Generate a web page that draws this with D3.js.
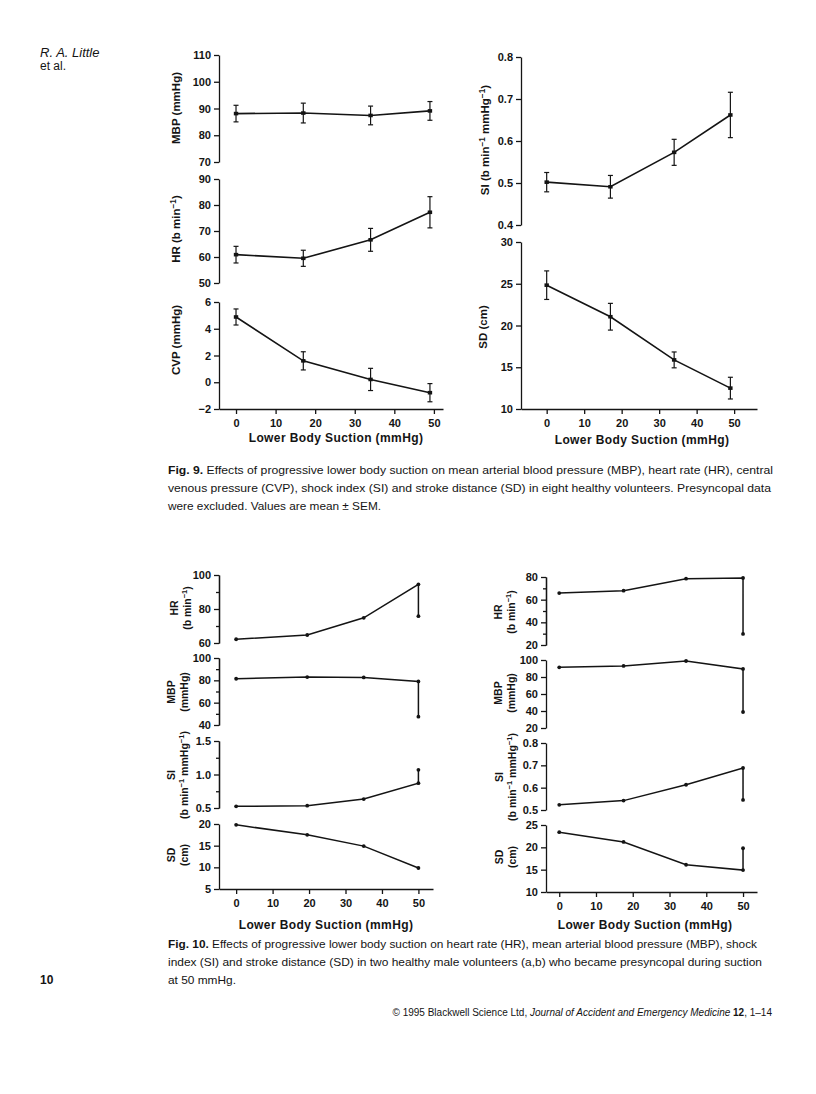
<!DOCTYPE html>
<html>
<head>
<meta charset="utf-8">
<script src="https://cdn.jsdelivr.net/npm/d3@7"></script>
<style>
  body { margin: 0; background: #fff; }
  svg { display: block; }
  text { font-family: "Liberation Sans", Arial, sans-serif; fill: #141414; }
</style>
</head>
<body>
<svg id="page" width="816" height="1094"></svg>
<script>
// Fig. 9 — mean ± SEM, eight volunteers
const suction9 = [0, 17, 34, 49]
const mbp9 = [88.1, 88.3, 87.4, 89.1]
const mbpSem9 = [3.1, 3.7, 3.5, 3.5]
const hr9 = [60.9, 59.5, 66.6, 77.2]
const hrSem9 = [3.2, 3.1, 4.4, 6.0]
const cvp9 = [4.88, 1.6, 0.21, -0.78]
const cvpSem9 = [0.6, 0.68, 0.83, 0.68]
const si9 = [0.502, 0.491, 0.573, 0.662]
const siSem9 = [0.023, 0.027, 0.031, 0.054]
const sd9 = [24.83, 21.05, 15.88, 12.5]
const sdSem9 = [1.71, 1.6, 0.95, 1.3]

// Fig. 10 — two volunteers, last value = presyncope at 50 mmHg
const suction10a = [0, 19.5, 35, 50]
const hr10a = [62.2, 64.7, 74.8, 94.5]
const mbp10a = [81.4, 82.9, 82.6, 79.0]
const si10a = [0.525, 0.535, 0.633, 0.87]
const sd10a = [19.8, 17.5, 14.9, 9.85]
const hrPre10a = 75.8
const mbpPre10a = 47.5
const siPre10a = 1.07
const sdPre10a = null

const suction10b = [0, 17.5, 34.5, 50]
const hr10b = [65.8, 67.9, 78.5, 79.1]
const mbp10b = [91.4, 93.0, 98.8, 89.5]
const si10b = [0.523, 0.542, 0.613, 0.688]
const sd10b = [23.4, 21.2, 16.1, 14.9]
const hrPre10b = 29.8
const mbpPre10b = 38.8
const siPre10b = 0.545
const sdPre10b = 19.8

const suctionTicks = [0, 10, 20, 30, 40, 50]

const svg = d3.select('#page')
const INK = '#141414'

// rich text: segments [text, 'sup'|'b'|'i'|'down'|undefined]
function rich(sel, segs) {
  segs.forEach(([t, kind]) => {
    const ts = sel.append('tspan').text(t)
    if (kind === 'sup') ts.attr('dy', -4).attr('font-size', '0.72em')
    if (kind === 'b') ts.attr('font-weight', 'bold')
    if (kind === 'i') ts.attr('font-style', 'italic')
    if (kind === 'down') ts.attr('dy', 4)
  })
  return sel
}

function styleAxis(g, fs) {
  g.selectAll('path, line').attr('stroke', INK).attr('stroke-width', 1.3)
  g.selectAll('text').attr('font-size', fs).attr('font-weight', 'bold').attr('fill', INK)
}

function yAxis(o, y) {
  const g = svg.append('g').attr('transform', `translate(${o.axisX},0)`)
  if (o.minor) {
    g.append('g').call(d3.axisLeft(y).tickValues(o.minor).tickSize(3).tickSizeOuter(0).tickFormat(''))
      .call(s => styleAxis(s, 11))
  }
  g.append('g').call(d3.axisLeft(y).tickValues(o.ticks).tickSize(5).tickSizeOuter(0).tickPadding(3)
      .tickFormat(o.fmt || d3.format('')))
    .call(s => styleAxis(s, o.tickFs || 11))
}

function yLabel(x, y, segs, fs) {
  const t = svg.append('text')
    .attr('transform', `translate(${x},${y}) rotate(-90)`)
    .attr('text-anchor', 'middle')
    .attr('font-size', fs)
    .attr('font-weight', 'bold')
  rich(t, segs)
}

// Fig. 9 panel with error bars
function meanPanel(x, o) {
  const y = d3.scaleLinear().domain(o.yDomain).range(o.yRange)
  yAxis(o, y)
  const pts = o.xs.map((v, i) => ({ x: x(v), y: y(o.mean[i]), lo: y(o.mean[i] - o.sem[i]), hi: y(o.mean[i] + o.sem[i]) }))
  const g = svg.append('g')
  g.append('path')
    .attr('d', d3.line().x(d => d.x).y(d => d.y)(pts))
    .attr('fill', 'none').attr('stroke', INK).attr('stroke-width', 1.6)
  const eb = g.selectAll('g.eb').data(pts).join('g').attr('class', 'eb')
  eb.append('line').attr('x1', d => d.x).attr('x2', d => d.x).attr('y1', d => d.lo).attr('y2', d => d.hi)
    .attr('stroke', INK).attr('stroke-width', 1.2)
  eb.append('line').attr('x1', d => d.x - 2.5).attr('x2', d => d.x + 2.5).attr('y1', d => d.lo).attr('y2', d => d.lo)
    .attr('stroke', INK).attr('stroke-width', 1.2)
  eb.append('line').attr('x1', d => d.x - 2.5).attr('x2', d => d.x + 2.5).attr('y1', d => d.hi).attr('y2', d => d.hi)
    .attr('stroke', INK).attr('stroke-width', 1.2)
  eb.append('rect').attr('x', d => d.x - 2.2).attr('y', d => d.y - 1.8).attr('width', 4.4).attr('height', 3.6).attr('fill', INK)
  yLabel(o.labelX, o.labelY, o.label, 11.5)
  return y
}

// Fig. 10 panel: individual values plus presyncope drop
function subjectPanel(x, o) {
  const y = d3.scaleLinear().domain(o.yDomain).range(o.yRange)
  yAxis(o, y)
  const pts = o.xs.map((v, i) => [x(v), y(o.vals[i])])
  if (o.pre != null) pts.push([x(o.xs[o.xs.length - 1]), y(o.pre)])
  const g = svg.append('g')
  g.append('path')
    .attr('d', d3.line()(pts))
    .attr('fill', 'none').attr('stroke', INK).attr('stroke-width', 1.5)
  g.selectAll('circle').data(pts).join('circle')
    .attr('cx', d => d[0]).attr('cy', d => d[1]).attr('r', 1.9).attr('fill', INK)
  const t = svg.append('text')
    .attr('transform', `translate(${o.labelX},${o.labelY}) rotate(-90)`)
    .attr('text-anchor', 'middle').attr('font-size', 10.5).attr('font-weight', 'bold')
  t.append('tspan').attr('x', 0).attr('dy', 0).text(o.label[0])
  const t2 = t.append('tspan').attr('x', 0).attr('dy', 13)
  rich(t2, o.label[1])
}

function xAxis(x, yPos, fs) {
  svg.append('g').attr('transform', `translate(0,${yPos})`)
    .call(d3.axisBottom(x).tickValues(suctionTicks).tickSize(5).tickSizeOuter(0).tickPadding(5))
    .call(s => styleAxis(s, fs))
}

function xTitle(cx, cy) {
  svg.append('text').attr('x', cx).attr('y', cy).attr('text-anchor', 'middle')
    .attr('font-size', 12).attr('font-weight', 'bold').attr('letter-spacing', 0.4)
    .text('Lower Body Suction (mmHg)')
}

// ---- header
svg.append('text').attr('x', 40).attr('y', 57).attr('font-size', 13).attr('font-style', 'italic').text('R. A. Little')
svg.append('text').attr('x', 40).attr('y', 70).attr('font-size', 12).text('et al.')

// ---- Fig. 9 left column
const x9L = d3.scaleLinear().domain([-4.3, 52.3]).range([219, 443])
meanPanel(x9L, { xs: suction9, mean: mbp9, sem: mbpSem9, axisX: 219, yDomain: [70, 110], yRange: [162, 55],
  ticks: [70, 80, 90, 100, 110], labelX: 180, labelY: 108, label: [['MBP (mmHg)']] })
meanPanel(x9L, { xs: suction9, mean: hr9, sem: hrSem9, axisX: 219, yDomain: [50, 90], yRange: [283, 179],
  ticks: [50, 60, 70, 80, 90], labelX: 180, labelY: 229, label: [['HR (b min'], ['−1', 'sup'], [')', 'down']] })
meanPanel(x9L, { xs: suction9, mean: cvp9, sem: cvpSem9, axisX: 219, yDomain: [-2, 6], yRange: [409, 302],
  ticks: [-2, 0, 2, 4, 6], labelX: 180, labelY: 340, label: [['CVP (mmHg)']] })
xAxis(x9L, 409, 11)
xTitle(336, 442)

// ---- Fig. 9 right column
const x9R = d3.scaleLinear().domain([-6.85, 56.1]).range([521, 757])
meanPanel(x9R, { xs: suction9, mean: si9, sem: siSem9, axisX: 521, yDomain: [0.4, 0.8], yRange: [225, 57],
  ticks: [0.4, 0.5, 0.6, 0.7, 0.8], fmt: d3.format('.1f'), labelX: 489, labelY: 140,
  label: [['SI (b min'], ['−1', 'sup'], [' mmHg', 'down'], ['−1', 'sup'], [')', 'down']] })
meanPanel(x9R, { xs: suction9, mean: sd9, sem: sdSem9, axisX: 521, yDomain: [10, 30], yRange: [409, 242],
  ticks: [10, 15, 20, 25, 30], labelX: 487, labelY: 327, label: [['SD (cm)']] })
xAxis(x9R, 409, 11)
xTitle(642, 444)

// ---- Fig. 9 caption
function captionLine(yPos, segs, len) {
  const t = svg.append('text').attr('x', 168).attr('y', yPos).attr('font-size', 11)
  if (len) t.attr('textLength', len).attr('lengthAdjust', 'spacingAndGlyphs')
  rich(t, segs)
}
captionLine(474, [['Fig. 9.', 'b'], [' Effects of progressive lower body suction on mean arterial blood pressure (MBP), heart rate (HR), central']], 605)
captionLine(492, [['venous pressure (CVP), shock index (SI) and stroke distance (SD) in eight healthy volunteers. Presyncopal data']], 603)
captionLine(510, [['were excluded. Values are mean ± SEM.']], 213)

// ---- Fig. 10 left (a)
const x10L = d3.scaleLinear().domain([-4.7, 54]).range([219, 433])
subjectPanel(x10L, { xs: suction10a, vals: hr10a, pre: hrPre10a, axisX: 219, yDomain: [60, 100], yRange: [643, 575],
  ticks: [60, 80, 100], minor: [70, 90], labelX: 178, labelY: 608, label: ['HR', [['(b min'], ['−1', 'sup'], [')', 'down']]] })
subjectPanel(x10L, { xs: suction10a, vals: mbp10a, pre: mbpPre10a, axisX: 219, yDomain: [40, 100], yRange: [725, 658],
  ticks: [40, 60, 80, 100], minor: [50, 70, 90], labelX: 175, labelY: 692, label: ['MBP', [['(mmHg)']]] })
subjectPanel(x10L, { xs: suction10a, vals: si10a, pre: siPre10a, axisX: 219, yDomain: [0.5, 1.5], yRange: [808, 741],
  ticks: [0.5, 1.0, 1.5], minor: [0.75, 1.25], fmt: d3.format('.1f'), labelX: 175, labelY: 775,
  label: ['SI', [['(b min'], ['−1', 'sup'], [' mmHg', 'down'], ['−1', 'sup'], [')', 'down']]] })
subjectPanel(x10L, { xs: suction10a, vals: sd10a, pre: sdPre10a, axisX: 219, yDomain: [5, 20], yRange: [889, 824],
  ticks: [5, 10, 15, 20], labelX: 175, labelY: 855, label: ['SD', [['(cm)']]] })
xAxis(x10L, 889, 11)
xTitle(326, 929)

// ---- Fig. 10 right (b)
const x10R = d3.scaleLinear().domain([-3.6, 53.8]).range([546, 757])
subjectPanel(x10R, { xs: suction10b, vals: hr10b, pre: hrPre10b, axisX: 546, yDomain: [20, 80], yRange: [645, 577],
  ticks: [20, 40, 60, 80], minor: [30, 50, 70], labelX: 502, labelY: 612, label: ['HR', [['(b min'], ['−1', 'sup'], [')', 'down']]] })
subjectPanel(x10R, { xs: suction10b, vals: mbp10b, pre: mbpPre10b, axisX: 546, yDomain: [20, 100], yRange: [728, 660],
  ticks: [20, 40, 60, 80, 100], labelX: 502, labelY: 693, label: ['MBP', [['(mmHg)']]] })
subjectPanel(x10R, { xs: suction10b, vals: si10b, pre: siPre10b, axisX: 546, yDomain: [0.5, 0.8], yRange: [810, 743],
  ticks: [0.5, 0.6, 0.7, 0.8], fmt: d3.format('.1f'), labelX: 503, labelY: 777,
  label: ['SI', [['(b min'], ['−1', 'sup'], [' mmHg', 'down'], ['−1', 'sup'], [')', 'down']]] })
subjectPanel(x10R, { xs: suction10b, vals: sd10b, pre: sdPre10b, axisX: 546, yDomain: [10, 25], yRange: [892, 825],
  ticks: [10, 15, 20, 25], labelX: 503, labelY: 857, label: ['SD', [['(cm)']]] })
xAxis(x10R, 892, 11)
xTitle(645, 929)

// ---- Fig. 10 caption
captionLine(948, [['Fig. 10.', 'b'], [' Effects of progressive lower body suction on heart rate (HR), mean arterial blood pressure (MBP), shock']], 589)
captionLine(966, [['index (SI) and stroke distance (SD) in two healthy male volunteers (a,b) who became presyncopal during suction']], 594)
captionLine(984, [['at 50 mmHg.']], 68)

svg.append('text').attr('x', 40).attr('y', 984).attr('font-size', 12).attr('font-weight', 'bold').text('10')

// ---- footer
const foot = svg.append('text').attr('x', 772).attr('y', 1016).attr('font-size', 10).attr('text-anchor', 'end')
rich(foot, [['© 1995 Blackwell Science Ltd, '], ['Journal of Accident and Emergency Medicine', 'i'], [' '], ['12', 'b'], [', 1–14']])
</script>
</body>
</html>
